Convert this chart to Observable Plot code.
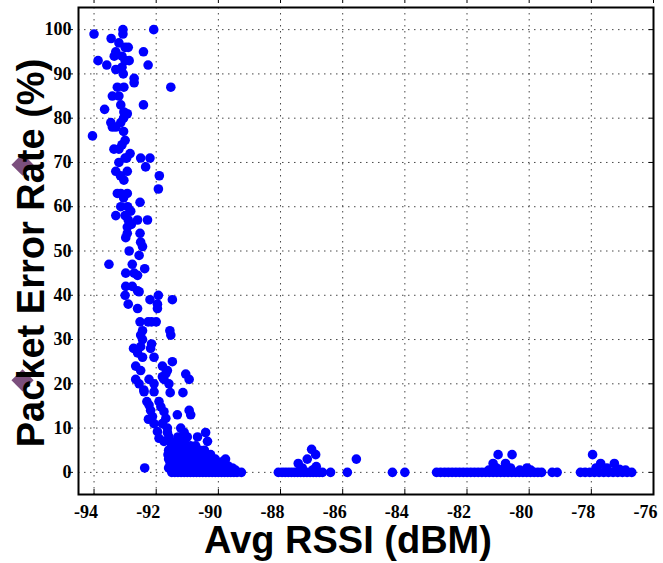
<!DOCTYPE html>
<html><head><meta charset="utf-8">
<script src="https://cdn.jsdelivr.net/npm/d3@7"></script>
<script src="https://cdn.jsdelivr.net/npm/@observablehq/plot@0.6"></script>
<style>body{margin:0;background:#fff;}</style>
</head><body><div id="chart"></div>
<script>
const xTitle = "Avg RSSI (dBM)";
const yTitle = "Packet Error Rate (%)";
const xTicks = [-94, -92, -90, -88, -86, -84, -82, -80, -78, -76];
const yTicks = [0, 10, 20, 30, 40, 50, 60, 70, 80, 90, 100];

// [avg RSSI (dBm), packet error rate (%)]
const steepUpper = [
  [-94.0,99],[-93.07,100],[-93.07,99],[-92.08,100],[-93.45,98],[-93.2,97],[-93.0,96],[-93.3,95],[-92.9,96],
  [-92.41,95],[-93.1,94],[-93.35,94],[-93.0,93],[-93.87,93],[-93.59,92],[-92.26,92],[-93.3,91],[-93.1,91.5],
  [-92.87,93],[-93.06,90],[-92.71,89],[-92.71,88],[-91.53,87],[-93.25,87],[-93.04,87],[-93.41,85],[-93.2,85],
  [-93.66,82],[-92.41,83],[-93.14,83],[-93.04,81.4],[-92.93,81],[-93.46,79],[-93.41,78],[-94.05,76],
  [-93.14,79],[-93.3,78],[-93.05,80],[-93.05,77],[-93.0,75],[-93.1,74],[-93.2,73],[-93.36,73],[-92.84,72],
  [-93.0,71],[-92.95,71],[-92.5,71],[-92.2,71],[-92.34,69],[-93.2,70],[-93.3,68],[-92.93,68],[-93.15,67],
  [-93.04,66],[-91.9,67],[-91.93,64],[-93.14,63],[-92.93,63],[-93.05,62],[-93.25,63],[-92.52,61],
  [-93.14,60],[-92.92,60],[-92.82,59],[-93.3,58],[-93.0,58],[-92.6,57],[-92.28,57],[-92.9,57],[-92.8,56],
  [-92.93,55.4],[-92.93,54],[-92.98,53],[-92.52,54],[-92.5,52],[-92.44,51],[-92.87,50],[-92.55,49]
];
const steepMiddle = [
  [-93.52,47],[-92.77,47],[-92.37,46],[-92.98,45],[-92.71,45],[-92.6,44.5],[-92.98,42],[-92.77,42],
  [-92.6,41],[-92.55,40.8],[-93.0,40],[-91.93,40],[-92.2,39],[-91.48,39],[-92.9,38],[-91.96,38],[-92.6,37],
  [-91.96,37],[-92.52,34],[-92.26,34],[-92.15,34],[-92.0,34],[-92.44,32],[-92.5,31],[-92.44,30],[-91.56,32],
  [-91.53,31],[-92.73,28],[-92.5,28.4],[-92.6,27],[-92.44,26],[-92.18,28],[-92.07,26],[-92.15,29],
  [-92.66,24],[-92.5,23],[-91.8,24],[-91.64,23],[-91.48,25],[-92.66,21],[-92.55,20],[-92.23,21],[-92.07,20],
  [-91.8,21.6],[-91.69,22.3],[-91.59,20],[-91.75,21],[-91.05,22.2],[-90.94,21],[-92.4,18.6],[-92.39,18.2],
  [-92.07,18.2],[-91.55,18],[-91.14,18],[-92.3,16],[-92.23,15.2],[-91.91,16],[-92.18,14],[-91.85,14.8],
  [-91.75,13.7],[-92.12,12.6],[-92.25,12],[-91.69,12.2],[-92.07,11],[-91.8,11],[-91.32,13],[-90.94,14],
  [-90.89,13],[-91.96,9.2],[-91.91,7.7]
];
const denseFloor = [
  [-92.37,1],
  [-91.5,0],[-91.4,0],[-91.3,0],[-91.2,0],[-91.1,0],[-91.0,0],[-90.9,0],[-90.8,0],[-90.7,0],[-90.6,0],
  [-90.5,0],[-90.4,0],[-90.3,0],[-90.2,0],[-90.1,0],[-90.0,0],[-89.9,0],[-89.8,0],[-89.7,0],[-89.6,0],
  [-89.5,0],[-89.4,0],[-89.26,0],
  [-91.45,0.5],[-91.25,0.5],[-91.05,0.5],[-90.85,0.5],[-90.65,0.5],[-90.45,0.5],[-90.25,0.5],[-90.05,0.5],
  [-89.85,0.5],[-89.65,0.5],[-89.45,0.5],
  [-91.6,1],[-91.5,1],[-91.35,1],[-91.2,1],[-91.05,1],[-90.9,1],[-90.75,1],[-90.6,1],[-90.45,1],[-90.3,1],
  [-90.15,1],[-90.0,1],[-89.85,1],[-89.7,1],[-89.55,1],
  [-91.4,1.5],[-91.1,1.5],[-90.8,1.5],[-90.5,1.5],[-90.2,1.5],[-89.9,1.5],[-89.7,1.5],
  [-91.55,2],[-91.4,2],[-91.25,2],[-91.1,2],[-90.95,2],[-90.8,2],[-90.65,2],[-90.5,2],[-90.35,2],[-90.2,2],
  [-90.05,2],[-89.9,2],
  [-91.3,2.5],[-91.0,2.5],[-90.7,2.5],[-90.4,2.5],[-90.1,2.5],[-89.85,2.5],
  [-91.6,3],[-91.45,3],[-91.3,3],[-91.15,3],[-91.0,3],[-90.85,3],[-90.7,3],[-90.55,3],[-90.4,3],[-90.25,3],
  [-90.1,3],[-89.77,3],
  [-91.4,3.5],[-91.1,3.5],[-90.8,3.5],[-90.5,3.5],[-90.3,3.5],
  [-91.62,4],[-91.5,4],[-91.3,4],[-91.15,4],[-91.0,4],[-90.85,4],[-90.7,4],[-90.5,4],[-90.25,4],
  [-91.6,5],[-91.4,5],[-91.2,5],[-91.0,5],[-90.8,5],[-90.6,5],[-90.45,5],
  [-91.5,6],[-91.3,6],[-91.1,6],[-90.9,6],[-90.73,6],
  [-91.75,7],[-91.55,7],[-91.35,7],[-91.1,7],[-90.35,7],
  [-91.59,8],[-91.3,8],[-91.0,8],[-90.67,8],
  [-91.64,9],[-91.1,9],[-90.41,9],
  [-91.64,10],[-91.21,10]
];
const clusterNear87 = [
  [-88.07,0],[-87.95,0],[-87.85,0],[-87.75,0],[-87.65,0],[-87.55,0],[-87.45,0],[-87.35,0],[-87.25,0],
  [-87.15,0],[-87.05,0],[-86.95,0],[-86.85,0],[-86.75,0],[-86.65,0],[-86.39,0],[-85.85,0],
  [-87.43,2],[-87.3,1],[-87.14,3],[-87.0,5.2],[-86.87,4],[-86.85,1.3],[-86.95,0.6],[-85.56,3],
  [-84.4,0],[-84.0,0]
];
const clusterNear81 = [
  [-82.98,0],[-82.85,0],[-82.72,0],[-82.6,0],[-82.48,0],[-82.36,0],[-82.24,0],[-82.12,0],[-82.0,0],
  [-81.88,0],[-81.76,0],[-81.64,0],[-81.52,0],[-81.4,0],[-81.28,0],[-81.16,0],[-81.04,0],[-80.92,0],
  [-80.8,0],[-80.68,0],[-80.56,0],[-80.44,0],[-80.32,0],[-80.2,0],[-80.08,0],[-79.96,0],[-79.84,0],
  [-79.72,0],[-79.6,0],[-79.26,0],[-79.1,0],
  [-81.0,4],[-80.55,4],[-81.16,2],[-80.76,2],[-80.07,1],[-81.05,1],[-80.6,1],[-80.3,0.5],[-81.3,0.5],
  [-80.85,0.7],[-79.95,0.5]
];
const clusterNear77 = [
  [-78.35,0],[-78.2,0],[-78.05,0],[-77.9,0],[-77.75,0],[-77.6,0],[-77.45,0],[-77.3,0],[-77.15,0],
  [-77.0,0],[-76.85,0],[-76.7,0],
  [-77.96,4],[-77.7,2],[-77.26,2],[-77.5,1],[-76.9,0.5],[-77.85,1],[-77.1,0.7]
];
const markerX = [-96.3, -96.3];
const markerY = [69.5, 20.8];

const points = [...steepUpper, ...steepMiddle, ...denseFloor, ...clusterNear87, ...clusterNear81, ...clusterNear77];
const markers = markerX.map((x, i) => ({x, y: markerY[i]}));

const tickFont = {fontFamily: "Liberation Serif", fontWeight: "bold", fontSize: 18, fill: "black"};
const titleFont = {fontFamily: "Liberation Sans", fontWeight: "bold", fontSize: 38, fill: "black"};

const chart = Plot.plot({
  width: 663, height: 563,
  marginLeft: 78, marginRight: 10, marginTop: 7, marginBottom: 69,
  x: {domain: [-94.5, -76]},
  y: {domain: [-5, 105]},
  style: {background: "white", color: "black"},
  marks: [
    Plot.gridX(xTicks, {stroke: "#333", strokeOpacity: 0.9, strokeDasharray: "1.5,4.5"}),
    Plot.gridY(yTicks, {stroke: "#333", strokeOpacity: 0.9, strokeDasharray: "1.5,4.5"}),
    Plot.dot(markers, {x: "x", y: "y", symbol: "diamond2", r: 10, fill: "#7b4f7d"}),
    Plot.dot(points, {x: d => d[0], y: d => d[1], r: 4.8, fill: "#0000ff"}),
    Plot.axisX(xTicks, {anchor: "bottom", tickSize: 0, tickPadding: 11, dx: -8, tickFormat: d => String(d), label: null, ...tickFont}),
    Plot.axisX(xTicks, {anchor: "bottom", tickSize: 5, dy: -5, text: null, label: null}),
    Plot.axisX(xTicks, {anchor: "top", tickSize: 5, dy: -5, text: null, label: null}),
    Plot.axisY(yTicks, {anchor: "left", tickSize: 0, tickPadding: 7, tickFormat: d => String(d), label: null, ...tickFont}),
    Plot.axisY(yTicks, {anchor: "left", tickSize: 5, dx: -5, text: null, label: null}),
    Plot.axisY(yTicks, {anchor: "right", tickSize: 5, dx: -5, text: null, label: null}),
    Plot.frame({stroke: "black", strokeWidth: 2}),
    Plot.text([yTitle], {text: d => d, frameAnchor: "left", textAnchor: "middle", lineAnchor: "middle", rotate: -90, dx: -47, dy: 2, ...titleFont}),
    Plot.text([xTitle], {text: d => d, frameAnchor: "bottom", textAnchor: "middle", lineAnchor: "middle", dx: -18, dy: 46, ...titleFont})
  ]
});
document.getElementById("chart").appendChild(chart);
</script>
</body></html>
